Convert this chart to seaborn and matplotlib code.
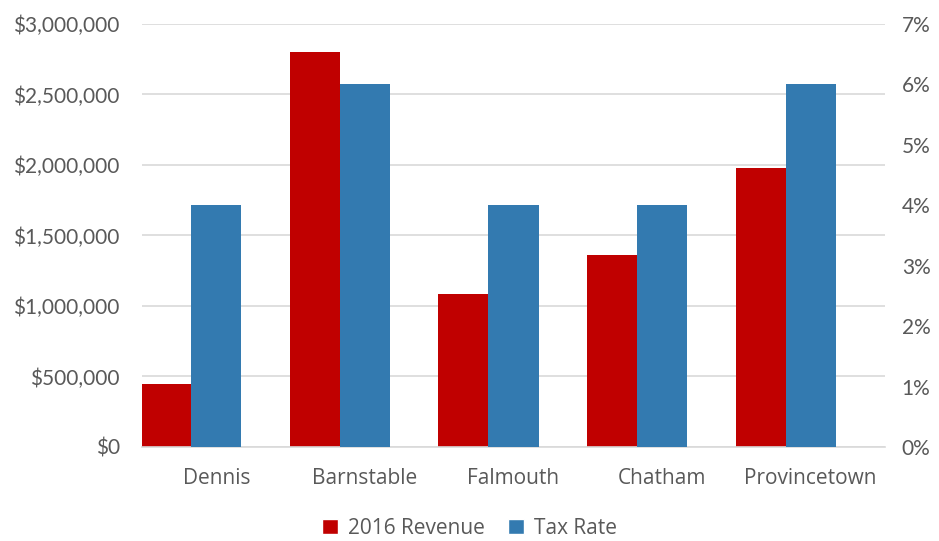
import numpy as np
import pandas as pd
import seaborn as sns
import matplotlib.pyplot as plt
from matplotlib.patches import Patch
from matplotlib.ticker import FuncFormatter

# Revenue (left axis) and tax rate (right axis) by town
towns = ["Dennis", "Barnstable", "Falmouth", "Chatham", "Provincetown"]
revenue = [450000, 2800000, 1085000, 1365000, 1980000]
tax_rate = [4, 6, 4, 4, 6]
series_names = ["2016 Revenue", "Tax Rate"]

RED = "#C00000"
BLUE = "#337AB0"
GRID = "#D9D9D9"
TEXT = "#595959"

sns.set_theme(style="white")
plt.rcParams["font.family"] = ["Lato", "DejaVu Sans"]
LABEL_FONT = ["Open Sans", "DejaVu Sans"]

fig = plt.figure(figsize=(9.39, 5.41), dpi=100)
ax = fig.add_axes([0.1512, 0.1738, 0.7913, 0.7819])
ax2 = ax.twinx()

pos = np.arange(len(towns))
w = 0.337

df_rev = pd.DataFrame({"pos": pos - w, "value": revenue})
df_tax = pd.DataFrame({"pos": pos, "value": tax_rate})

sns.barplot(data=df_rev, x="pos", y="value", ax=ax, native_scale=True,
            width=w, color=RED, saturation=1, errorbar=None, linewidth=0)
sns.barplot(data=df_tax, x="pos", y="value", ax=ax2, native_scale=True,
            width=w, color=BLUE, saturation=1, errorbar=None, linewidth=0)

ax.set_xlim(-0.5, 4.5)
ax.set_ylim(0, 3000000)
ax2.set_ylim(0, 7)
ax.set_yticks(np.arange(0, 3000001, 500000))
ax2.set_yticks(np.arange(0, 8, 1))
ax.yaxis.set_major_formatter(FuncFormatter(lambda v, _: f"${v:,.0f}"))
ax2.yaxis.set_major_formatter(FuncFormatter(lambda v, _: f"{v:.0f}%"))
ax.set_xticks(pos)
ax.set_xticklabels(towns, family=LABEL_FONT, fontsize=15)

for a in (ax, ax2):
    a.set_xlabel("")
    a.set_ylabel("")
    for s in a.spines.values():
        s.set_visible(False)
    a.tick_params(length=0, colors=TEXT)
    a.tick_params(axis="y", labelsize=15)

ax.spines["bottom"].set_visible(True)
ax.spines["bottom"].set_color(GRID)
ax.spines["bottom"].set_linewidth(1.2)
ax.yaxis.grid(True, color=GRID, linewidth=1.2)
ax.set_axisbelow(True)
ax2.grid(False)
ax.tick_params(axis="y", pad=16)
ax2.tick_params(axis="y", pad=12)
ax.tick_params(axis="x", pad=15)

handles = [Patch(facecolor=RED), Patch(facecolor=BLUE)]
fig.legend(handles, series_names, loc="center", bbox_to_anchor=(0.5, 0.024),
           ncol=2, frameon=False, labelcolor=TEXT,
           prop={"family": LABEL_FONT, "size": 15},
           handlelength=0.75, handleheight=0.75, handletextpad=0.5,
           columnspacing=1.1, borderpad=0.2)

fig.savefig("out.png", dpi=100)
